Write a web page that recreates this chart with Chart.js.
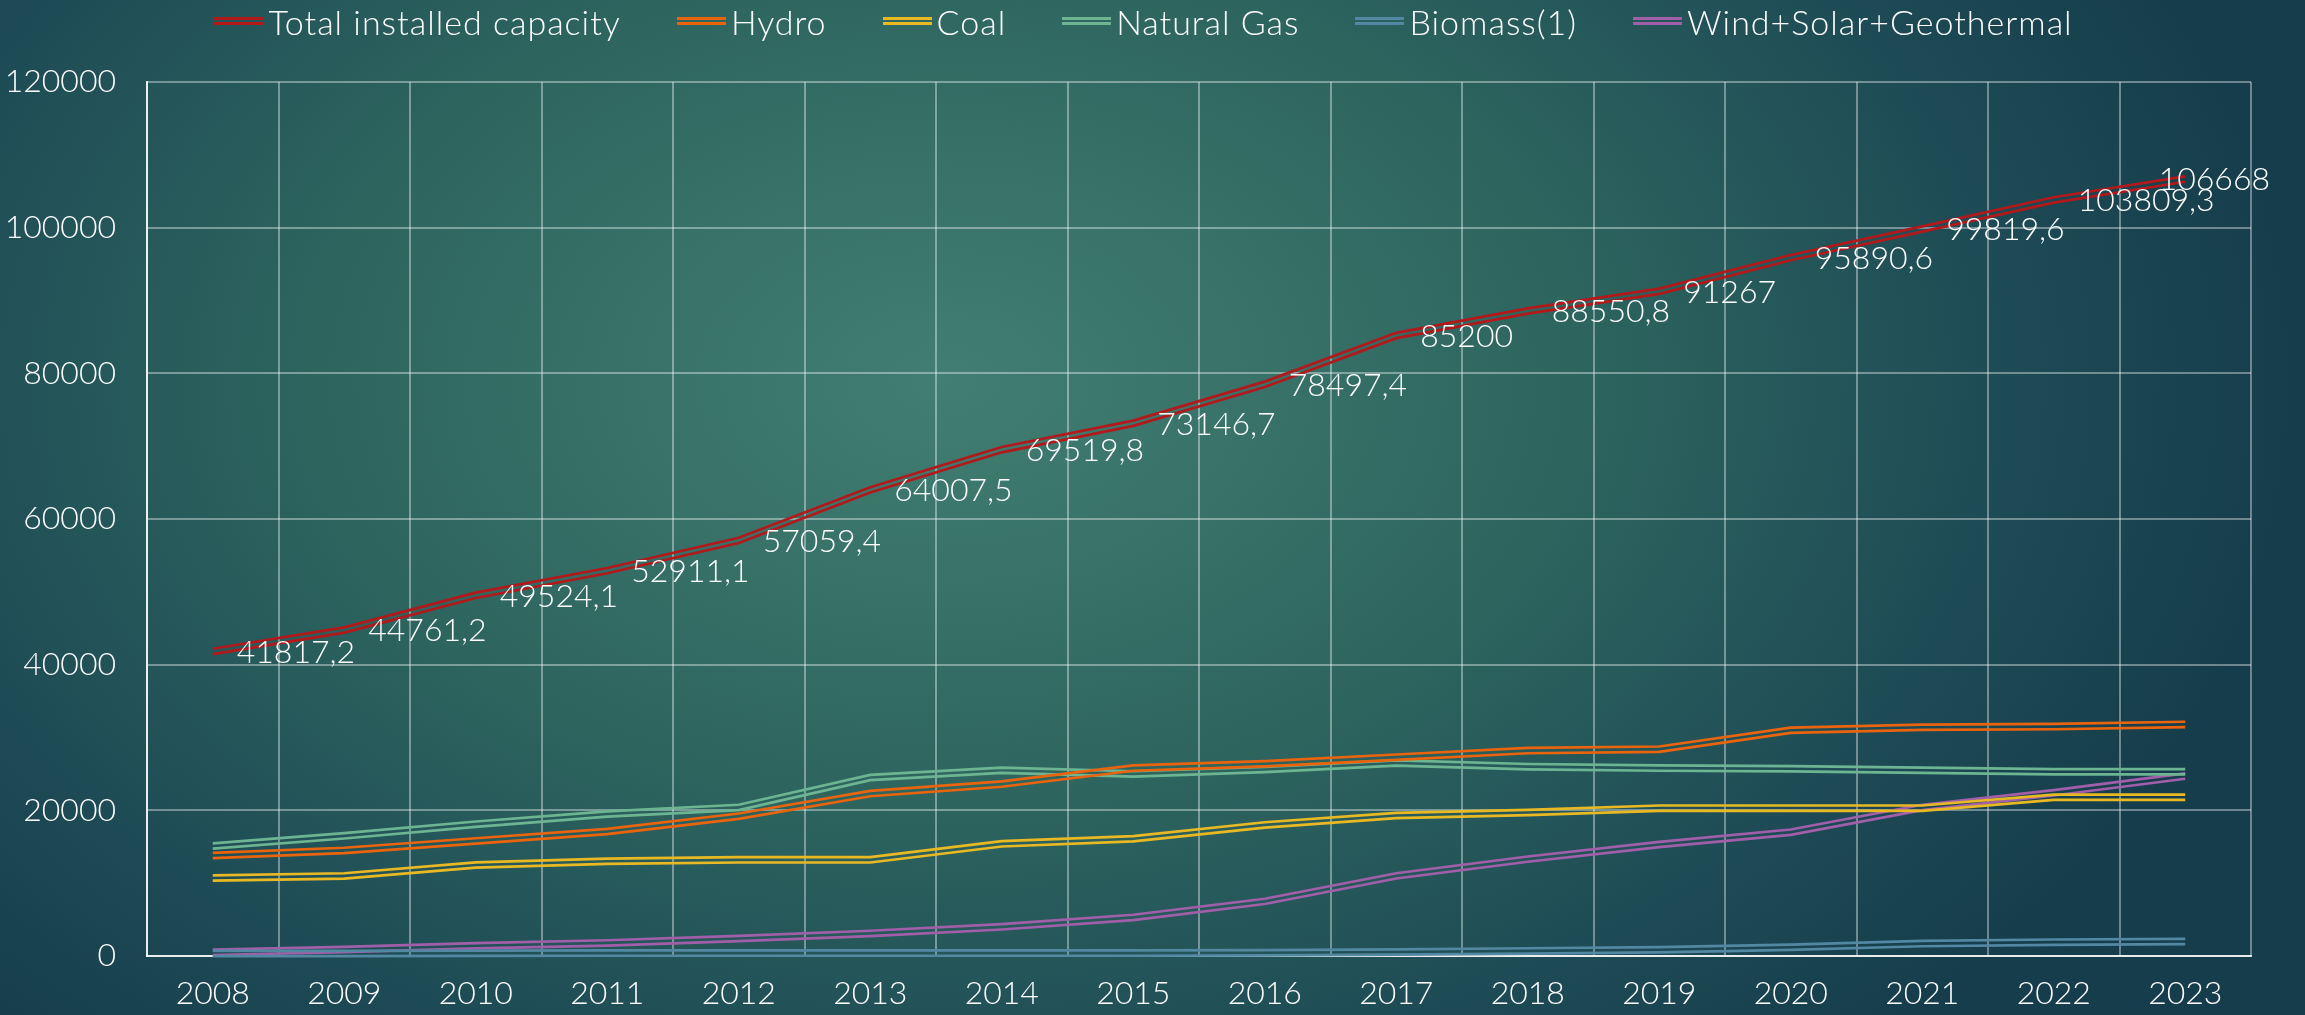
<!DOCTYPE html>
<html>
<head>
<meta charset="utf-8">
<script src="https://cdn.jsdelivr.net/npm/chart.js@4.4.1/dist/chart.umd.min.js"></script>
<style>
  html, body { margin: 0; padding: 0; }
  body {
    width: 2305px; height: 1015px; overflow: hidden;
    background: radial-gradient(ellipse 1350px 900px at 945px 380px, #427e72 0%, #2e665f 45%, #1d4a55 80%, #163d4b 100%);
    font-family: Lato, sans-serif;
  }
  #wrap { position: relative; width: 2305px; height: 1015px; }
  #legend {
    position: absolute; top: 0; left: 0; width: 2305px; height: 42px;
    display: flex; justify-content: center; align-items: center; gap: 56px;
    color: #fff; font-size: 34px; font-weight: 300; letter-spacing: 1px;
    padding-right: 18px; box-sizing: border-box;
  }
  .item { display: flex; align-items: center; }
  .swatch { width: 49px; height: 2.5px; border-top: 3px solid; border-bottom: 3px solid; margin-right: 5px; }
  canvas { position: absolute; top: 0; left: 0; }
</style>
</head>
<body>
<div id="wrap">
  <canvas id="capacity" width="2305" height="1015"></canvas>
  <div id="legend"></div>
</div>
<script>
const years = ["2008", "2009", "2010", "2011", "2012", "2013", "2014", "2015",
  "2016", "2017", "2018", "2019", "2020", "2021", "2022", "2023"];
const totalCapacity = [41817.2, 44761.2, 49524.1, 52911.1, 57059.4, 64007.5, 69519.8, 73146.7,
  78497.4, 85200, 88550.8, 91267, 95890.6, 99819.6, 103809.3, 106668];
const hydro = [13800, 14500, 15800, 17100, 19200, 22300, 23600, 25800,
  26400, 27300, 28200, 28400, 31000, 31400, 31500, 31800];
const coal = [10700, 11000, 12500, 13000, 13200, 13200, 15400, 16100,
  18000, 19300, 19700, 20300, 20300, 20300, 21800, 21800];
const naturalGas = [15100, 16500, 18100, 19500, 20400, 24500, 25500, 25000,
  25600, 26500, 26000, 25800, 25700, 25500, 25300, 25300];
const biomass = [350, 350, 380, 400, 400, 400, 400, 400,
  450, 550, 700, 850, 1200, 1700, 1900, 2000];
const windSolarGeo = [500, 900, 1400, 1800, 2400, 3100, 4000, 5300,
  7500, 11000, 13300, 15300, 17000, 20400, 22400, 24700];
const yTicks = [0, 20000, 40000, 60000, 80000, 100000, 120000];

const series = [
  { name: "Total installed capacity", data: totalCapacity, color: "#b3181b" },
  { name: "Hydro", data: hydro, color: "#ea640e" },
  { name: "Coal", data: coal, color: "#e9b923" },
  { name: "Natural Gas", data: naturalGas, color: "#6db592" },
  { name: "Biomass(1)", data: biomass, color: "#5288a2" },
  { name: "Wind+Solar+Geothermal", data: windSolarGeo, color: "#a25fa9" },
];

// legend
const legend = document.getElementById("legend");
series.forEach((s) => {
  const item = document.createElement("div");
  item.className = "item";
  const sw = document.createElement("div");
  sw.className = "swatch";
  sw.style.borderColor = s.color;
  const txt = document.createElement("span");
  txt.textContent = s.name;
  item.appendChild(sw);
  item.appendChild(txt);
  legend.appendChild(item);
});

// each series drawn twice, shifted up/down -> double line look
const datasets = [];
series.forEach((s, i) => {
  [-2.65, 2.65].forEach((shift) => {
    datasets.push({
      label: s.name,
      data: s.data,
      borderColor: s.color,
      borderWidth: 2.7,
      pointRadius: 0,
      tension: 0,
      fill: false,
      clip: false,
      order: i,
      shift: shift,
    });
  });
});

const doubleLine = {
  id: "doubleLine",
  beforeDatasetDraw(chart, args) {
    chart.ctx.save();
    chart.ctx.translate(0, chart.data.datasets[args.index].shift);
  },
  afterDatasetDraw(chart) {
    chart.ctx.restore();
  },
};

const totalLabels = {
  id: "totalLabels",
  afterDatasetsDraw(chart) {
    const ctx = chart.ctx;
    const meta = chart.getDatasetMeta(0);
    ctx.save();
    ctx.font = "300 32px Lato, sans-serif";
    ctx.fillStyle = "#ffffff";
    ctx.textBaseline = "middle";
    meta.data.forEach((pt, i) => {
      const text = String(totalCapacity[i]).replace(".", ",");
      const w = ctx.measureText(text).width;
      let x = pt.x + 24;
      if (x + w > chart.width - 35) x = chart.width - 35 - w;
      ctx.fillText(text, x, pt.y + 1);
    });
    ctx.restore();
  },
};

const tickFont = { family: "Lato, sans-serif", size: 32, weight: 300 };

new Chart(document.getElementById("capacity"), {
  type: "line",
  data: { labels: years, datasets: datasets },
  plugins: [doubleLine, totalLabels],
  options: {
    responsive: false,
    animation: false,
    devicePixelRatio: 1,
    layout: { padding: { top: 82, right: 54, bottom: 0, left: 0 } },
    plugins: { legend: { display: false }, tooltip: { enabled: false } },
    scales: {
      x: {
        offset: true,
        grid: { offset: true, color: "rgba(255,255,255,0.38)", lineWidth: 2, drawTicks: false },
        border: { color: "rgba(255,255,255,0.85)", width: 2 },
        ticks: { color: "#fff", font: tickFont, padding: 18, maxRotation: 0, autoSkip: false },
        afterFit(scale) { scale.height = 59; },
      },
      y: {
        min: yTicks[0],
        max: yTicks[yTicks.length - 1],
        afterBuildTicks(scale) { scale.ticks = yTicks.map((v) => ({ value: v })); },
        grid: { color: "rgba(255,255,255,0.38)", lineWidth: 2, drawTicks: false },
        border: { color: "rgba(255,255,255,0.85)", width: 2 },
        ticks: { color: "#fff", font: tickFont, padding: 31, callback: (v) => String(v) },
        afterFit(scale) { scale.width = 147; },
      },
    },
  },
});
</script>
</body>
</html>
